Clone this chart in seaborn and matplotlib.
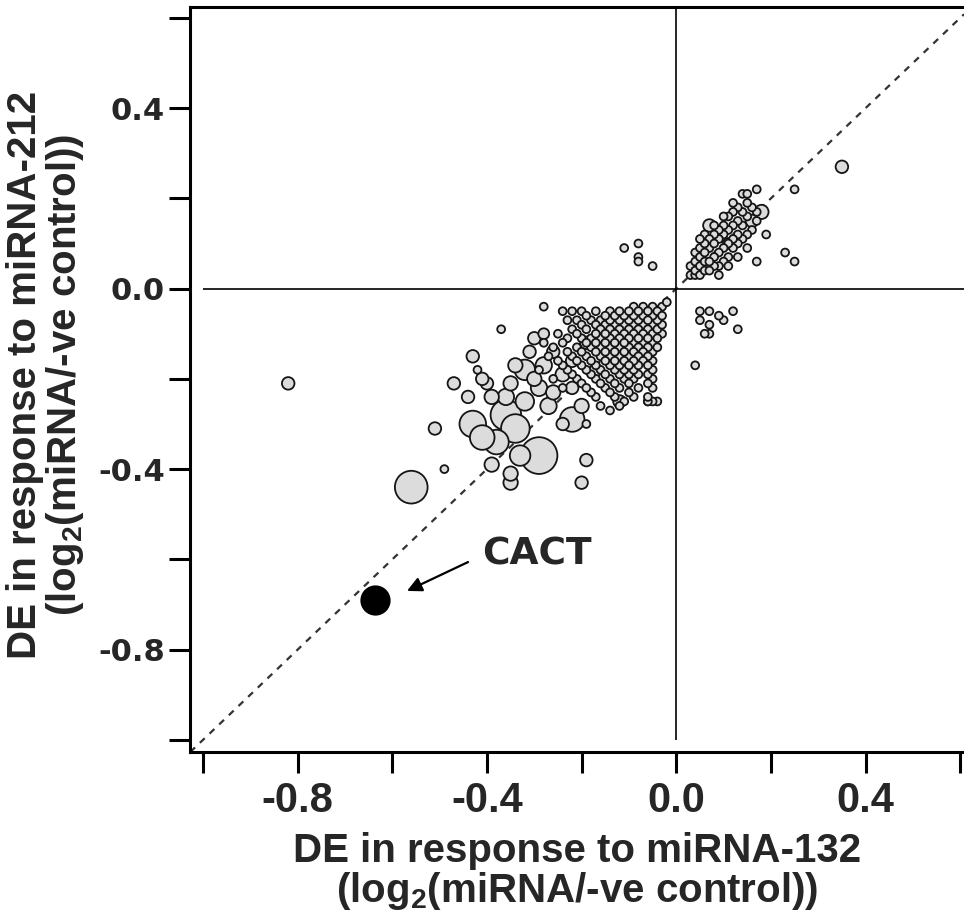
import numpy as np
import pandas as pd
import seaborn as sns
import matplotlib.pyplot as plt

# --- data: DE (log2 miRNA / -ve control) for miRNA-132 (x) and miRNA-212 (y) ---
# dense band of small points, negative quadrant
band_x = [-0.02, -0.03, -0.05, -0.07, -0.09,
          -0.04, -0.06, -0.08, -0.10, -0.12, -0.14, -0.17, -0.20, -0.22, -0.24,
          -0.03, -0.05, -0.07, -0.09, -0.11, -0.13, -0.15, -0.19,
          -0.04, -0.06, -0.08, -0.10, -0.12, -0.14, -0.16, -0.18, -0.21, -0.23,
          -0.03, -0.05, -0.07, -0.09, -0.11, -0.13, -0.15, -0.17, -0.20,
          -0.04, -0.06, -0.08, -0.10, -0.12, -0.14, -0.16, -0.19, -0.22,
          -0.03, -0.05, -0.07, -0.09, -0.11, -0.13, -0.15, -0.17, -0.21, -0.25,
          -0.04, -0.06, -0.08, -0.10, -0.12, -0.14, -0.16, -0.18, -0.20, -0.23,
          -0.05, -0.07, -0.09, -0.11, -0.13, -0.15, -0.17, -0.19, -0.24, -0.28,
          -0.04, -0.06, -0.08, -0.10, -0.12, -0.14, -0.16, -0.18, -0.21, -0.26,
          -0.05, -0.07, -0.09, -0.11, -0.13, -0.15, -0.17, -0.20, -0.23,
          -0.06, -0.08, -0.10, -0.12, -0.14, -0.16, -0.19, -0.22, -0.27,
          -0.05, -0.07, -0.09, -0.11, -0.13, -0.15, -0.18, -0.21, -0.25,
          -0.06, -0.08, -0.10, -0.12, -0.14, -0.17, -0.20, -0.24,
          -0.05, -0.09, -0.11, -0.13, -0.16, -0.19, -0.23, -0.29,
          -0.06, -0.08, -0.10, -0.12, -0.15, -0.18, -0.22,
          -0.05, -0.09, -0.11, -0.14, -0.17, -0.21, -0.26,
          -0.06, -0.10, -0.13, -0.16, -0.20,
          -0.05, -0.08, -0.12, -0.15, -0.19, -0.24,
          -0.10, -0.14, -0.18,
          -0.06, -0.09, -0.13, -0.17,
          -0.04, -0.06, -0.11,
          -0.12, -0.16]
band_y = [-0.03] + [-0.04] * 4 + [-0.05] * 10 + [-0.06] * 8 + [-0.07] * 10 + [-0.08] * 9 \
    + [-0.09] * 9 + [-0.10] * 10 + [-0.11] * 10 + [-0.12] * 10 + [-0.13] * 10 \
    + [-0.14] * 9 + [-0.15] * 9 + [-0.16] * 9 + [-0.17] * 8 + [-0.18] * 8 \
    + [-0.19] * 7 + [-0.20] * 7 + [-0.21] * 5 + [-0.22] * 6 + [-0.23] * 3 \
    + [-0.24] * 4 + [-0.25] * 3 + [-0.26] * 2

# small points, positive cluster
up_x = [0.03, 0.03, 0.04, 0.04, 0.04, 0.04, 0.05, 0.05, 0.05, 0.05,
        0.06, 0.06, 0.06, 0.06, 0.07, 0.07, 0.07, 0.07, 0.08, 0.08, 0.08, 0.08,
        0.09, 0.09, 0.09, 0.09, 0.10, 0.10, 0.10, 0.10, 0.11, 0.11, 0.11, 0.11,
        0.12, 0.12, 0.12, 0.12, 0.13, 0.13, 0.13, 0.13, 0.14, 0.14, 0.14,
        0.15, 0.15, 0.15, 0.16, 0.16, 0.17, 0.17, 0.19,
        0.06, 0.08, 0.10, 0.12, 0.09, 0.11, 0.13, 0.15, 0.05]
up_y = [0.03, 0.05, 0.03, 0.04, 0.06, 0.08, 0.03, 0.05, 0.07, 0.09,
        0.04, 0.06, 0.08, 0.10, 0.04, 0.06, 0.09, 0.11, 0.05, 0.07, 0.10, 0.12,
        0.05, 0.08, 0.11, 0.13, 0.06, 0.09, 0.12, 0.14, 0.07, 0.10, 0.13, 0.16,
        0.09, 0.11, 0.14, 0.17, 0.10, 0.12, 0.15, 0.18, 0.11, 0.14, 0.17,
        0.12, 0.16, 0.19, 0.13, 0.18, 0.15, 0.17, 0.12,
        0.12, 0.14, 0.16, 0.19, 0.03, 0.05, 0.07, 0.09, 0.11]

# isolated small points
iso_x = [0.14, 0.15, 0.17, 0.25, 0.23, 0.25, 0.17,
         -0.11, -0.08, -0.08, -0.08, -0.05,
         0.05, 0.05, 0.07, 0.09, 0.10, 0.12, 0.07, 0.06, 0.07, 0.13, 0.04,
         -0.28, -0.37, -0.49, -0.42, -0.14, -0.19, -0.06, -0.05]
iso_y = [0.21, 0.21, 0.22, 0.22, 0.08, 0.06, 0.06,
         0.09, 0.10, 0.07, 0.06, 0.05,
         -0.05, -0.07, -0.05, -0.06, -0.07, -0.05, -0.08, -0.10, -0.10, -0.09, -0.17,
         -0.04, -0.09, -0.40, -0.18, -0.27, -0.30, -0.25, -0.25]

# larger points (n = relative point weight)
big_x = [0.35, 0.16, 0.18, 0.07, 0.11,
         -0.82, -0.56, -0.51, -0.47, -0.44, -0.43, -0.41, -0.40, -0.39,
         -0.39, -0.35, -0.35, -0.20, -0.19, -0.29, -0.33, -0.38, -0.43,
         -0.41, -0.36, -0.34, -0.22, -0.24, -0.20, -0.12, -0.35, -0.32,
         -0.29, -0.28, -0.26, -0.22, -0.30, -0.26, -0.24, -0.22, -0.17,
         -0.15, -0.19, -0.27, -0.32, -0.36, -0.34, -0.31, -0.30, -0.28]
big_y = [0.27, 0.15, 0.17, 0.14, 0.10,
         -0.21, -0.44, -0.31, -0.21, -0.24, -0.15, -0.20, -0.21, -0.24,
         -0.39, -0.41, -0.43, -0.43, -0.38, -0.37, -0.37, -0.34, -0.30,
         -0.33, -0.28, -0.31, -0.29, -0.30, -0.26, -0.25, -0.21, -0.18,
         -0.22, -0.17, -0.14, -0.16, -0.20, -0.23, -0.19, -0.22, -0.18,
         -0.14, -0.12, -0.26, -0.25, -0.24, -0.17, -0.14, -0.11, -0.10]
big_n = [2.7, 2.7, 3.5, 2.7, 2.0,
         2.7, 19, 2.7, 2.7, 2.7, 2.7, 2.7, 2.7, 3.6,
         3.6, 3.6, 3.6, 2.7, 2.7, 24, 7.4, 10.7, 12.5,
         10.7, 16.6, 14.5, 10.7, 2.7, 3.6, 2.7, 3.6, 7.4,
         4.7, 4.7, 2.7, 2.7, 3.6, 3.6, 3.6, 2.7, 2.7,
         2.7, 2.7, 4.7, 6.0, 4.7, 3.6, 2.7, 2.7, 2.0]

cact_x = [-0.636]
cact_y = [-0.69]

tick_vals = [-1.0, -0.8, -0.6, -0.4, -0.2, 0.0, 0.2, 0.4, 0.6]
tick_text = ['', '-0.8', '', '-0.4', '', '0.0', '', '0.4', '']

df = pd.DataFrame({
    'x': band_x + up_x + iso_x + big_x,
    'y': band_y + up_y + iso_y + big_y,
    'n': [1.0] * (len(band_x) + len(up_x) + len(iso_x)) + big_n,
})
df = df.sort_values('n', ascending=False)

sns.set_style('ticks')
sans = ['Liberation Sans', 'DejaVu Sans']
plt.rcParams['mathtext.default'] = 'regular'

fig = plt.figure(figsize=(9.64, 9.17), dpi=100)
ax = fig.add_axes([0.1971, 0.1799, 0.8029, 0.8124])

ax.axline((0, 0), slope=1, color='#333333', lw=1.6, ls=(0, (3, 3)), zorder=1)
ax.hlines(0, -1.0, 0.62, color='black', lw=1.2, zorder=1)
ax.vlines(0, -1.0, 0.63, color='black', lw=1.2, zorder=1)

sns.scatterplot(data=df, x='x', y='y', size='n', sizes=(32, 700), size_norm=(1, 24),
                color='#dcdcdc', edgecolor='#151515', linewidth=1.3, legend=False,
                ax=ax, zorder=3)
sns.scatterplot(x=cact_x, y=cact_y, s=406, color='black', edgecolor='black',
                legend=False, ax=ax, zorder=4)

ax.annotate('', xy=(-0.569, -0.670), xytext=(-0.440, -0.606),
            arrowprops=dict(arrowstyle='-|>', color='black', lw=1.6, mutation_scale=22,
                            shrinkA=0, shrinkB=0))
ax.text(-0.41, -0.612, 'CACT', fontsize=27, fontweight='bold', family='DejaVu Sans',
        ha='left', va='baseline')

ax.set_xlim(-1.0275, 0.608)
ax.set_ylim(-1.027, 0.624)
ax.set_xticks(tick_vals)
ax.set_xticklabels(tick_text)
ax.set_yticks(tick_vals)
ax.set_yticklabels(tick_text)

for lab in ax.get_xticklabels():
    lab.set_family(sans)
    lab.set_fontweight('bold')
    lab.set_fontsize(30)
for lab in ax.get_yticklabels():
    lab.set_family('DejaVu Sans')
    lab.set_fontweight('bold')
    lab.set_fontsize(22)

ax.tick_params(axis='both', direction='out', length=15, width=2.2, color='black')
ax.tick_params(axis='x', pad=6)
ax.tick_params(axis='y', pad=3)

ax.spines['right'].set_visible(False)
for side in ['top', 'left', 'bottom']:
    ax.spines[side].set_linewidth(2.2)
    ax.spines[side].set_color('black')

ax.set_xlabel('DE in response to miRNA-132\n(log$_2$(miRNA/-ve control))',
              family=sans, fontweight='bold', fontsize=29, linespacing=1.0)
ax.set_ylabel('DE in response to miRNA-212\n(log$_2$(miRNA/-ve control))',
              family=sans, fontweight='bold', fontsize=29, linespacing=1.0)
ax.xaxis.set_label_coords(0.5, -0.108)
ax.yaxis.set_label_coords(-0.134, 0.506)

fig.savefig('out.png', dpi=100)
